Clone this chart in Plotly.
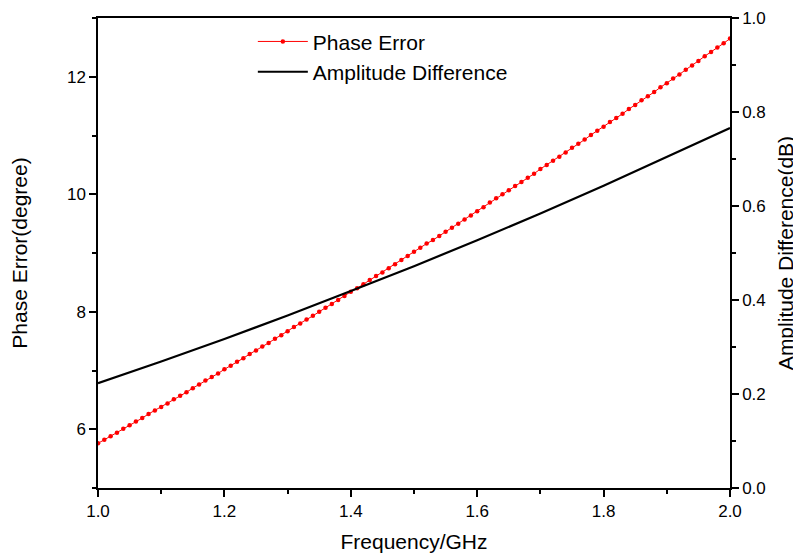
import plotly.graph_objects as go

freq_fine = [round(1.0 + i * 0.01, 2) for i in range(101)]
phase_error = [
    5.76, 5.82, 5.88, 5.94, 6.01, 6.07, 6.13, 6.19, 6.26, 6.32,
    6.38, 6.44, 6.51, 6.57, 6.63, 6.70, 6.76, 6.83, 6.89, 6.95,
    7.02, 7.08, 7.15, 7.21, 7.28, 7.34, 7.41, 7.47, 7.54, 7.60,
    7.67, 7.74, 7.80, 7.87, 7.93, 8.00, 8.07, 8.13, 8.20, 8.27,
    8.34, 8.40, 8.47, 8.54, 8.61, 8.67, 8.74, 8.81, 8.88, 8.95,
    9.02, 9.09, 9.16, 9.22, 9.29, 9.36, 9.43, 9.50, 9.57, 9.64,
    9.71, 9.78, 9.86, 9.93, 10.00, 10.07, 10.14, 10.21, 10.28, 10.35,
    10.43, 10.50, 10.57, 10.64, 10.71, 10.79, 10.86, 10.93, 11.01, 11.08,
    11.15, 11.23, 11.30, 11.37, 11.45, 11.52, 11.60, 11.67, 11.74, 11.82,
    11.89, 11.97, 12.04, 12.12, 12.19, 12.27, 12.35, 12.42, 12.50, 12.57,
    12.65,
]

freq_coarse = [1.0, 1.1, 1.2, 1.3, 1.4, 1.5, 1.6, 1.7, 1.8, 1.9, 2.0]
amplitude_diff = [0.223, 0.269, 0.317, 0.367, 0.419, 0.472, 0.527, 0.584, 0.643, 0.704, 0.766]

FONT = "Liberation Sans, Arial, sans-serif"

fig = go.Figure()
fig.add_trace(go.Scatter(
    x=freq_fine, y=phase_error, name="Phase Error", mode="lines+markers",
    line=dict(color="#ff0000", width=1),
    marker=dict(color="#ff0000", size=4.5),
    yaxis="y",
))
fig.add_trace(go.Scatter(
    x=freq_coarse, y=amplitude_diff, name="Amplitude Difference", mode="lines",
    line=dict(color="#000000", width=2.2),
    yaxis="y2",
))

axis_common = dict(
    showline=True, linecolor="black", linewidth=1.5,
    ticks="outside", ticklen=7, tickwidth=1.5, tickcolor="black",
    showgrid=False, zeroline=False, automargin=False,
    tickfont=dict(family=FONT, size=17, color="black"),
)

fig.update_layout(
    width=801, height=557,
    margin=dict(l=90, r=79, t=10, b=77),
    paper_bgcolor="white", plot_bgcolor="white",
    font=dict(family=FONT, color="black"),
    showlegend=True,
    legend=dict(
        x=0.245, y=0.993, xanchor="left", yanchor="top",
        bgcolor="rgba(0,0,0,0)", font=dict(family=FONT, size=21, color="black"),
        itemwidth=50, tracegroupgap=0,
    ),
    xaxis=dict(
        **axis_common, range=[1.0, 2.0], dtick=0.2, tick0=1.0, tickformat=".1f",
        mirror=True,
        minor=dict(dtick=0.1, ticklen=4, tickcolor="black", ticks="outside"),
        title=dict(text="Frequency/GHz", font=dict(family=FONT, size=21), standoff=14),
    ),
    yaxis=dict(
        **axis_common, range=[5, 13], dtick=2, tick0=0,
        minor=dict(dtick=1, ticklen=4, tickcolor="black", ticks="outside"),
        title=dict(text="Phase Error(degree)", font=dict(family=FONT, size=21), standoff=34),
    ),
    yaxis2=dict(
        **axis_common, range=[0, 1.0], dtick=0.2, tick0=0, tickformat=".1f",
        overlaying="y", side="right",
        minor=dict(dtick=0.1, ticklen=4, tickcolor="black", ticks="outside"),
        title=dict(text="Amplitude Difference(dB)", font=dict(family=FONT, size=21), standoff=14),
    ),
)

fig.write_html("out.html")
